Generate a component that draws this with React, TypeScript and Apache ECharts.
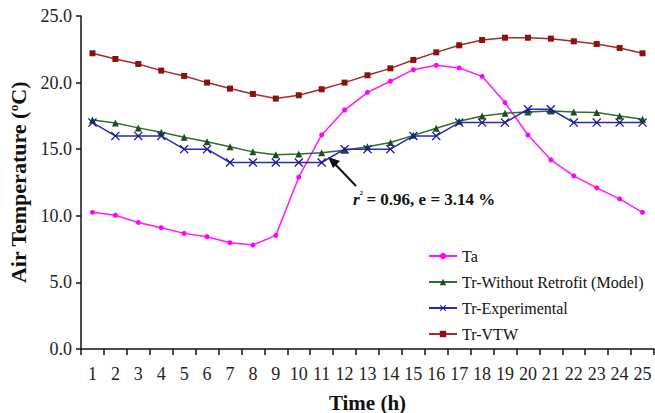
import React, { useEffect, useRef } from "react";
import * as echarts from "echarts";

const hours = ["1","2","3","4","5","6","7","8","9","10","11","12","13","14","15","16","17","18","19","20","21","22","23","24","25"];
const ta = [10.26, 10.04, 9.5, 9.1, 8.68, 8.43, 7.98, 7.8, 8.53, 12.9, 16.07, 17.94, 19.27, 20.1, 20.97, 21.3, 21.1, 20.47, 18.5, 16.07, 14.2, 13.0, 12.1, 11.27, 10.26];
const trModel = [17.19, 16.97, 16.6, 16.27, 15.9, 15.56, 15.19, 14.8, 14.59, 14.64, 14.74, 14.92, 15.19, 15.5, 16.04, 16.57, 17.1, 17.5, 17.7, 17.8, 17.87, 17.8, 17.75, 17.5, 17.24];
const trExp = [17, 16, 16, 16, 15, 15, 14, 14, 14, 14, 14, 15, 15, 15, 16, 16, 17, 17, 17, 18, 18, 17, 17, 17, 17];
const trVtw = [22.2, 21.77, 21.4, 20.9, 20.5, 20.0, 19.55, 19.15, 18.8, 19.05, 19.5, 20.0, 20.55, 21.07, 21.7, 22.27, 22.8, 23.2, 23.37, 23.37, 23.3, 23.1, 22.9, 22.6, 22.2];
const seriesNames = ["Ta", "Tr-Without Retrofit (Model)", "Tr-Experimental", "Tr-VTW"];
const annotation = "= 0.96, e = 3.14 %";

const FONT = "'Liberation Serif', 'DejaVu Serif', serif";
const X_SYMBOL = "path://M0,1L1,0L5,4L9,0L10,1L6,5L10,9L9,10L5,6L1,10L0,9L4,5Z";

export default function App() {
  const ref = useRef<HTMLDivElement>(null);
  useEffect(() => {
    if (!ref.current) return;
    const chart = echarts.init(ref.current, null, { renderer: "svg" });
    chart.setOption({
      animation: false,
      backgroundColor: "#ffffff",
      textStyle: { fontFamily: FONT },
      grid: { left: 81, right: 1, top: 16, bottom: 64, containLabel: false, outerBoundsMode: "none" },
      legend: {
        orient: "vertical",
        left: 428,
        top: 248,
        itemWidth: 28,
        itemHeight: 8,
        itemGap: 10,
        padding: 0,
        textStyle: { fontFamily: FONT, fontSize: 16, color: "#111" },
        data: seriesNames,
      },
      xAxis: {
        type: "category",
        data: hours,
        boundaryGap: true,
        name: "Time (h)",
        nameLocation: "middle",
        nameGap: 43,
        nameTextStyle: { fontFamily: FONT, fontSize: 21, fontWeight: "bold", color: "#111" },
        axisLine: { lineStyle: { color: "#111", width: 1.5 } },
        axisTick: { show: true, inside: false, length: 6, alignWithLabel: false, lineStyle: { color: "#111", width: 1.5 } },
        axisLabel: { fontFamily: FONT, fontSize: 18, color: "#222", margin: 16, interval: 0 },
        splitLine: { show: false },
      },
      yAxis: {
        type: "value",
        min: 0,
        max: 25,
        interval: 5,
        name: "Air Temperature ({sup|o}C)",
        nameLocation: "middle",
        nameGap: 51,
        nameRotate: 90,
        nameTextStyle: {
          fontFamily: FONT, fontSize: 22, fontWeight: "bold", color: "#111",
          rich: { sup: { fontFamily: FONT, fontSize: 13, fontWeight: "bold", color: "#111", padding: [0, 0, 10, 0] } },
        },
        axisLine: { show: true, lineStyle: { color: "#111", width: 1.5 } },
        axisTick: { show: true, inside: false, length: 5, lineStyle: { color: "#111", width: 1.5 } },
        axisLabel: { fontFamily: FONT, fontSize: 18, color: "#222", margin: 9, formatter: (v: number) => v.toFixed(1) },
        splitLine: { show: false },
      },
      series: [
        {
          name: seriesNames[0], type: "line", data: ta,
          symbol: "circle", symbolSize: 5,
          lineStyle: { color: "#ff1aff", width: 1.5 },
          itemStyle: { color: "#ff00ff" },
        },
        {
          name: seriesNames[1], type: "line", data: trModel,
          symbol: "triangle", symbolSize: 7,
          lineStyle: { color: "#336b33", width: 1.5 },
          itemStyle: { color: "#1d4d1d" },
        },
        {
          name: seriesNames[2], type: "line", data: trExp,
          symbol: X_SYMBOL, symbolSize: 9,
          lineStyle: { color: "#2b2bb0", width: 1.5 },
          itemStyle: { color: "#1a1a8c" },
        },
        {
          name: seriesNames[3], type: "line", data: trVtw,
          symbol: "rect", symbolSize: 6,
          lineStyle: { color: "#a52a2a", width: 1.5 },
          itemStyle: { color: "#8b1010" },
        },
      ],
      graphic: [
        {
          type: "line",
          shape: { x1: 356, y1: 186, x2: 333, y2: 162 },
          style: { stroke: "#111", lineWidth: 2 },
        },
        {
          type: "polygon",
          shape: { points: [[328, 157], [340, 161], [333, 168]] },
          style: { fill: "#111" },
        },
        {
          type: "text",
          x: 353,
          y: 199,
          style: {
            text: "{r|r}{sup|2} {b|" + annotation + "}",
            verticalAlign: "middle",
            rich: {
              r: { fontFamily: FONT, fontSize: 17, fontWeight: "bold", fontStyle: "italic", fill: "#111" },
              sup: { fontFamily: FONT, fontSize: 7, fontWeight: "bold", fill: "#111", padding: [0, 0, 12, 0] },
              b: { fontFamily: FONT, fontSize: 17, fontWeight: "bold", fill: "#111" },
            },
          },
        },
      ],
    });
    return () => chart.dispose();
  }, []);
  return <div ref={ref} style={{ width: 655, height: 413, position: "absolute", left: 0, top: 0 }} />;
}
